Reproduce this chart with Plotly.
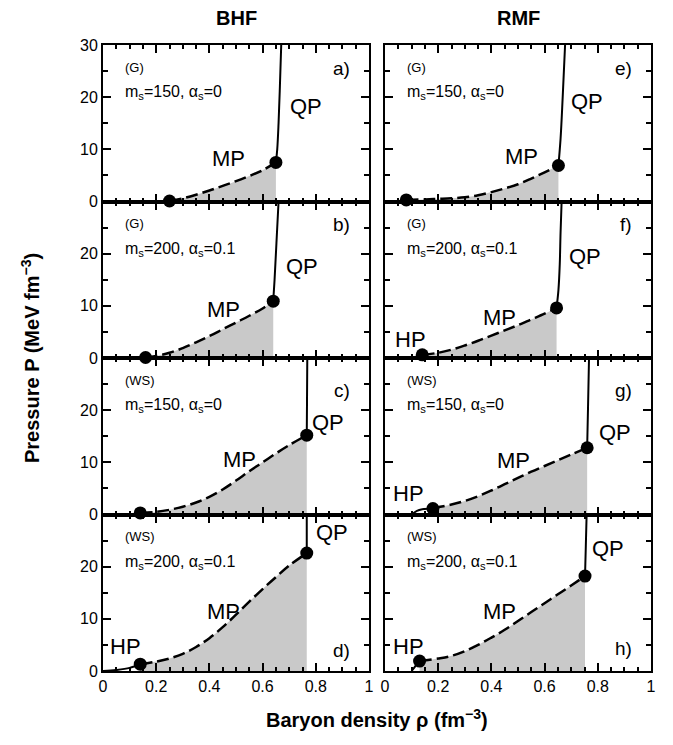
import plotly.graph_objects as go

# ---------------- data ----------------
col_titles = ["BHF", "RMF"]
panels = ["a", "b", "c", "d", "e", "f", "g", "h"]
panel_letters = ["a)", "b)", "c)", "d)", "e)", "f)", "g)", "h)"]
models = ["(G)", "(G)", "(WS)", "(WS)", "(G)", "(G)", "(WS)", "(WS)"]
params = ["m<sub>s</sub>=150, α<sub>s</sub>=0", "m<sub>s</sub>=200, α<sub>s</sub>=0.1",
          "m<sub>s</sub>=150, α<sub>s</sub>=0", "m<sub>s</sub>=200, α<sub>s</sub>=0.1",
          "m<sub>s</sub>=150, α<sub>s</sub>=0", "m<sub>s</sub>=200, α<sub>s</sub>=0.1",
          "m<sub>s</sub>=150, α<sub>s</sub>=0", "m<sub>s</sub>=200, α<sub>s</sub>=0.1"]

# mixed phase (dashed) curves
mp_a_x = [0.25, 0.30, 0.35, 0.40, 0.45, 0.50, 0.55, 0.60, 0.65]
mp_a_y = [0.1, 0.6, 1.3, 2.1, 3.0, 3.9, 4.9, 6.0, 7.5]
mp_b_x = [0.16, 0.20, 0.25, 0.30, 0.35, 0.40, 0.45, 0.50, 0.55, 0.60, 0.64]
mp_b_y = [0.1, 0.4, 1.0, 1.9, 3.0, 4.2, 5.5, 6.8, 8.1, 9.5, 10.9]
mp_c_x = [0.14, 0.20, 0.25, 0.30, 0.35, 0.40, 0.45, 0.50, 0.55, 0.60, 0.65, 0.70, 0.766]
mp_c_y = [0.3, 0.5, 0.9, 1.5, 2.3, 3.4, 4.8, 6.5, 8.3, 10.0, 11.7, 13.3, 15.2]
mp_d_x = [0.14, 0.20, 0.25, 0.30, 0.35, 0.40, 0.45, 0.50, 0.55, 0.60, 0.65, 0.70, 0.766]
mp_d_y = [1.3, 1.8, 2.4, 3.3, 4.6, 6.3, 8.4, 10.8, 13.3, 15.7, 18.0, 20.2, 22.6]
mp_e_x = [0.08, 0.15, 0.20, 0.25, 0.30, 0.35, 0.40, 0.45, 0.50, 0.55, 0.60, 0.652]
mp_e_y = [0.3, 0.4, 0.5, 0.6, 0.8, 1.2, 1.8, 2.5, 3.3, 4.4, 5.6, 6.9]
mp_f_x = [0.14, 0.20, 0.25, 0.30, 0.35, 0.40, 0.45, 0.50, 0.55, 0.60, 0.645]
mp_f_y = [0.6, 1.0, 1.6, 2.4, 3.3, 4.3, 5.3, 6.3, 7.4, 8.5, 9.6]
mp_g_x = [0.18, 0.20, 0.25, 0.30, 0.35, 0.40, 0.45, 0.50, 0.55, 0.60, 0.65, 0.70, 0.76]
mp_g_y = [1.15, 1.4, 1.9, 2.6, 3.5, 4.6, 5.8, 7.0, 8.2, 9.3, 10.4, 11.5, 12.8]
mp_h_x = [0.13, 0.20, 0.25, 0.30, 0.35, 0.40, 0.45, 0.50, 0.55, 0.60, 0.65, 0.70, 0.752]
mp_h_y = [1.9, 2.4, 2.9, 3.8, 5.0, 6.4, 7.9, 9.6, 11.3, 13.0, 14.7, 16.4, 18.2]

# quark phase (solid) curves
qp_a_x = [0.65, 0.655, 0.66, 0.665, 0.67]
qp_a_y = [7.5, 10, 15, 22, 30]
qp_b_x = [0.64, 0.645, 0.652, 0.66]
qp_b_y = [10.9, 15, 22, 30]
qp_c_x = [0.766, 0.767, 0.768]
qp_c_y = [15.2, 22, 30]
qp_d_x = [0.766, 0.766]
qp_d_y = [22.6, 30]
qp_e_x = [0.652, 0.66, 0.668, 0.677]
qp_e_y = [6.9, 12, 20, 30]
qp_f_x = [0.645, 0.652, 0.657, 0.66, 0.664]
qp_f_y = [9.6, 13, 18, 24, 30]
qp_g_x = [0.76, 0.763, 0.767]
qp_g_y = [12.8, 20, 30]
qp_h_x = [0.752, 0.755, 0.758]
qp_h_y = [18.2, 24, 30]

# hadronic phase (solid) curves
hp_d_x = [0.0, 0.05, 0.10, 0.139]
hp_d_y = [0.0, 0.2, 0.6, 1.3]
hp_f_x = [0.10, 0.12, 0.14]
hp_f_y = [0.0, 0.3, 0.6]
hp_g_x = [0.10, 0.12, 0.14, 0.18]
hp_g_y = [0.0, 0.7, 1.0, 1.15]
hp_h_x = [0.10, 0.115, 0.13]
hp_h_y = [0.0, 1.0, 1.9]

mp_x = [mp_a_x, mp_b_x, mp_c_x, mp_d_x, mp_e_x, mp_f_x, mp_g_x, mp_h_x]
mp_y = [mp_a_y, mp_b_y, mp_c_y, mp_d_y, mp_e_y, mp_f_y, mp_g_y, mp_h_y]
qp_x = [qp_a_x, qp_b_x, qp_c_x, qp_d_x, qp_e_x, qp_f_x, qp_g_x, qp_h_x]
qp_y = [qp_a_y, qp_b_y, qp_c_y, qp_d_y, qp_e_y, qp_f_y, qp_g_y, qp_h_y]
hp_x = [None, None, None, hp_d_x, None, hp_f_x, hp_g_x, hp_h_x]
hp_y = [None, None, None, hp_d_y, None, hp_f_y, hp_g_y, hp_h_y]

# label positions (data coords): QP, MP, HP
qp_lab = [(0.765, 18.2), (0.747, 17.6), (0.847, 17.6), (0.86, 26.6),
          (0.758, 19.1), (0.752, 19.5), (0.865, 15.7), (0.84, 23.4)]
mp_lab = [(0.47, 8.3), (0.452, 9.3), (0.515, 10.6), (0.452, 11.5),
          (0.514, 8.6), (0.432, 7.7), (0.482, 10.3), (0.432, 11.5)]
hp_lab = [None, None, None, (0.083, 4.7), None, (0.094, 3.6), (0.087, 4.0), (0.087, 4.7)]
letter_y = [25.5, 25.5, 23.7, 4.0, 25.5, 25.5, 23.7, 4.4]

x_ticks = [0, 0.2, 0.4, 0.6, 0.8, 1]
x_ticktext = ["0", "0.2", "0.4", "0.6", "0.8", "1"]
y_ticks = [0, 10, 20, 30]

# ---------------- figure ----------------
W, H = 673, 745
ML, MR, MT, MB = 103, 22, 45, 74
pw = W - ML - MR
gap = 16 / pw
col_dom = [[0, 0.5 - gap / 2], [0.5 + gap / 2, 1]]

FONT = "Liberation Sans, Arial, sans-serif"
fig = go.Figure()
annotations = []

for i, p in enumerate(panels):
    col = i // 4
    row = i % 4
    n = i + 1
    xs = "x" if n == 1 else f"x{n}"
    ys = "y" if n == 1 else f"y{n}"
    xa = "xaxis" if n == 1 else f"xaxis{n}"
    ya = "yaxis" if n == 1 else f"yaxis{n}"

    fig.update_layout({
        xa: dict(domain=col_dom[col], anchor=ys, range=[0, 1],
                 tickmode="array", tickvals=x_ticks, ticktext=x_ticktext,
                 showticklabels=(row == 3),
                 ticks="inside", ticklen=8, tickwidth=1.5, tickcolor="black",
                 minor=dict(tickmode="array", tickvals=[v / 20 for v in range(21)],
                            ticks="inside", ticklen=4, tickwidth=1.5, tickcolor="black"),
                 showline=True, linewidth=2, linecolor="black", mirror="allticks",
                 showgrid=False, zeroline=False,
                 tickfont=dict(size=16, family=FONT, color="black")),
        ya: dict(domain=[1 - (row + 1) * 0.25, 1 - row * 0.25], anchor=xs, range=[0, 30],
                 tickmode="array", tickvals=y_ticks,
                 ticktext=["0", "10", "20", "30" if row == 0 else ""],
                 showticklabels=(col == 0),
                 ticks="inside", ticklen=8, tickwidth=1.5, tickcolor="black",
                 minor=dict(tickmode="array", tickvals=[5, 15, 25],
                            ticks="inside", ticklen=5, tickwidth=1.5, tickcolor="black"),
                 showline=True, linewidth=2, linecolor="black", mirror="allticks",
                 showgrid=False, zeroline=False,
                 tickfont=dict(size=16, family=FONT, color="black")),
    })

    # shaded mixed-phase area
    fig.add_trace(go.Scatter(x=mp_x[i], y=mp_y[i], xaxis=xs, yaxis=ys, mode="lines",
                             line=dict(width=0, color="rgba(0,0,0,0)", shape="spline"),
                             fill="tozeroy", fillcolor="#c9c9c9",
                             showlegend=False, hoverinfo="skip"))
    # dashed MP curve
    fig.add_trace(go.Scatter(x=mp_x[i], y=mp_y[i], xaxis=xs, yaxis=ys, mode="lines",
                             line=dict(width=2.5, color="black", dash="12px,5px", shape="spline"),
                             showlegend=False))
    # QP curve
    fig.add_trace(go.Scatter(x=qp_x[i], y=qp_y[i], xaxis=xs, yaxis=ys, mode="lines",
                             line=dict(width=2, color="black", shape="spline"),
                             showlegend=False))
    # HP curve
    if hp_x[i] is not None:
        fig.add_trace(go.Scatter(x=hp_x[i], y=hp_y[i], xaxis=xs, yaxis=ys, mode="lines",
                                 line=dict(width=2, color="black", shape="spline"),
                                 showlegend=False))
    # transition points
    fig.add_trace(go.Scatter(x=[mp_x[i][0], mp_x[i][-1]], y=[mp_y[i][0], mp_y[i][-1]],
                             xaxis=xs, yaxis=ys, mode="markers",
                             marker=dict(size=13, color="black"),
                             showlegend=False, cliponaxis=False))

    # text annotations
    annotations.append(dict(x=0.075, y=25.7, xref=xs, yref=ys, text=models[i],
                            showarrow=False, xanchor="left", yanchor="middle",
                            font=dict(size=13, family=FONT, color="black")))
    annotations.append(dict(x=0.075, y=20.8, xref=xs, yref=ys, text=params[i],
                            showarrow=False, xanchor="left", yanchor="middle",
                            font=dict(size=16, family=FONT, color="black")))
    annotations.append(dict(x=0.935, y=letter_y[i], xref=xs, yref=ys, text=panel_letters[i],
                            showarrow=False, xanchor="right", yanchor="middle",
                            font=dict(size=19, family=FONT, color="black")))
    annotations.append(dict(x=qp_lab[i][0], y=qp_lab[i][1], xref=xs, yref=ys, text="QP",
                            showarrow=False, xanchor="center", yanchor="middle",
                            font=dict(size=22, family=FONT, color="black")))
    annotations.append(dict(x=mp_lab[i][0], y=mp_lab[i][1], xref=xs, yref=ys, text="MP",
                            showarrow=False, xanchor="center", yanchor="middle",
                            font=dict(size=22, family=FONT, color="black")))
    if hp_lab[i] is not None:
        annotations.append(dict(x=hp_lab[i][0], y=hp_lab[i][1], xref=xs, yref=ys, text="HP",
                                showarrow=False, xanchor="center", yanchor="middle",
                                font=dict(size=22, family=FONT, color="black")))

# column titles
for c, t in enumerate(col_titles):
    annotations.append(dict(x=sum(col_dom[c]) / 2, y=1, xref="paper", yref="paper",
                            yshift=27, text=f"<b>{t}</b>", showarrow=False,
                            xanchor="center", yanchor="middle",
                            font=dict(size=20, family=FONT, color="black")))

# axis titles
annotations.append(dict(x=0.5, y=0, xref="paper", yref="paper", yshift=-47,
                        text="<b>Baryon density ρ (fm<sup>−3</sup>)</b>", showarrow=False,
                        xanchor="center", yanchor="middle",
                        font=dict(size=20, family=FONT, color="black")))
annotations.append(dict(x=0, y=0.5, xref="paper", yref="paper", xshift=-73,
                        text="<b>Pressure P (MeV fm<sup>−3</sup>)</b>", showarrow=False,
                        textangle=-90, xanchor="center", yanchor="middle",
                        font=dict(size=20, family=FONT, color="black")))

fig.update_layout(width=W, height=H, margin=dict(l=ML, r=MR, t=MT, b=MB),
                  paper_bgcolor="white", plot_bgcolor="white",
                  annotations=annotations, showlegend=False)

fig.write_html("out.html")
